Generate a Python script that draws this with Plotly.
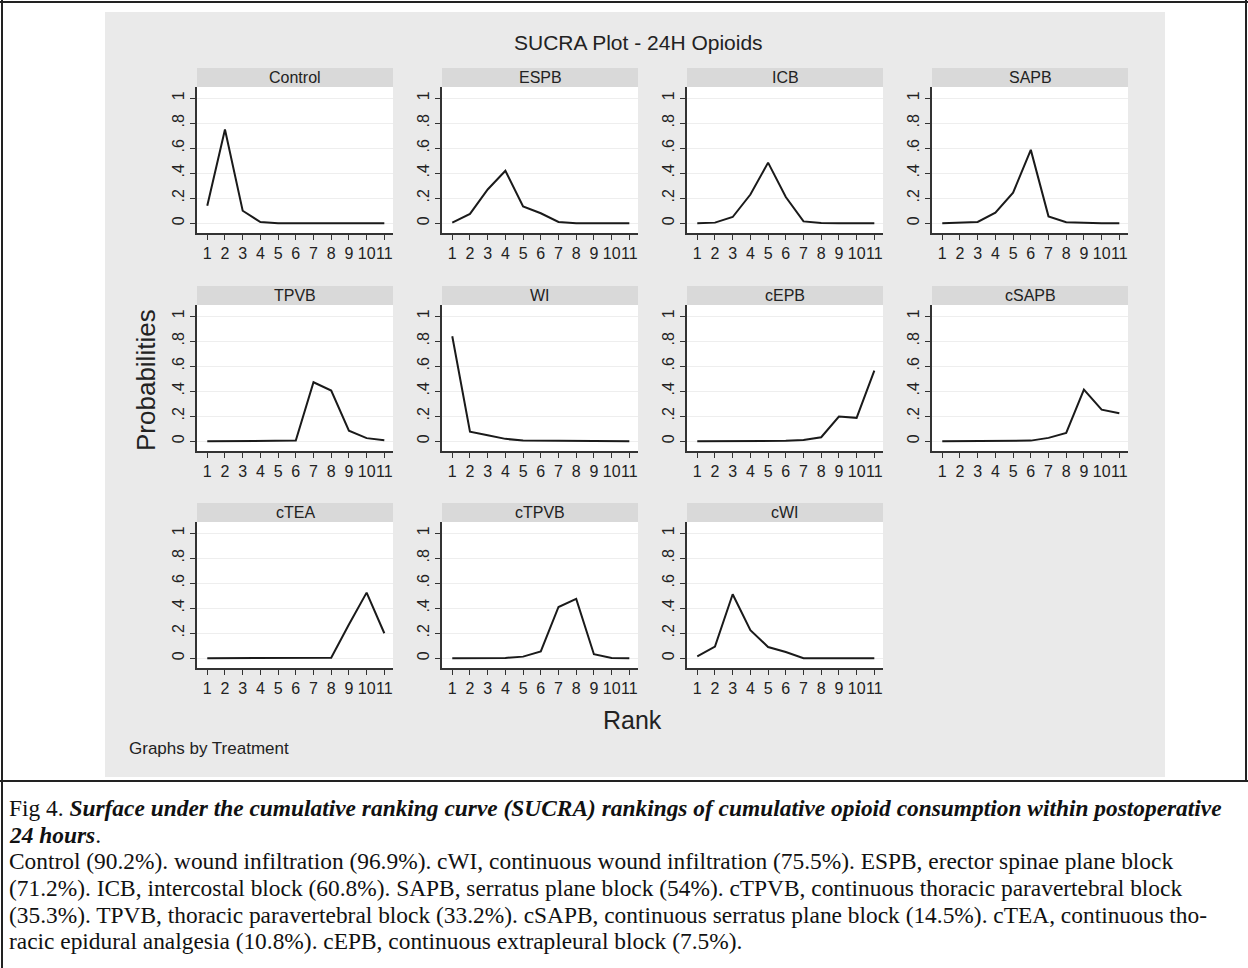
import plotly.graph_objects as go

W, H = 1248, 968

# ---------------- data ----------------
ranks = [1, 2, 3, 4, 5, 6, 7, 8, 9, 10, 11]
treatments = ["Control", "ESPB", "ICB", "SAPB", "TPVB", "WI",
              "cEPB", "cSAPB", "cTEA", "cTPVB", "cWI"]

p_control = [0.14, 0.75, 0.10, 0.01, 0.0, 0.0, 0.0, 0.0, 0.0, 0.0, 0.0]
p_espb = [0.005, 0.075, 0.27, 0.42, 0.135, 0.08, 0.01, 0.0, 0.0, 0.0, 0.0]
p_icb = [0.0, 0.005, 0.05, 0.23, 0.485, 0.21, 0.015, 0.003, 0.0, 0.0, 0.0]
p_sapb = [0.0, 0.002, 0.01, 0.085, 0.245, 0.587, 0.055, 0.008, 0.002, 0.0, 0.0]
p_tpvb = [0.0, 0.0, 0.0, 0.0, 0.0, 0.005, 0.472, 0.405, 0.085, 0.025, 0.008]
p_wi = [0.84, 0.077, 0.048, 0.019, 0.005, 0.005, 0.002, 0.002, 0.001, 0.001, 0.0]
p_cepb = [0.0, 0.0, 0.0, 0.0, 0.001, 0.003, 0.01, 0.032, 0.197, 0.187, 0.565]
p_csapb = [0.0, 0.0, 0.0, 0.0, 0.002, 0.005, 0.027, 0.067, 0.413, 0.253, 0.224]
p_ctea = [0.0, 0.0, 0.0, 0.0, 0.0, 0.0, 0.0, 0.005, 0.27, 0.525, 0.2]
p_ctpvb = [0.0, 0.0, 0.0, 0.003, 0.013, 0.055, 0.41, 0.475, 0.032, 0.003, 0.0]
p_cwi = [0.015, 0.093, 0.512, 0.225, 0.09, 0.05, 0.0, 0.0, 0.0, 0.0, 0.0]

series = [p_control, p_espb, p_icb, p_sapb, p_tpvb, p_wi,
          p_cepb, p_csapb, p_ctea, p_ctpvb, p_cwi]

ytick_vals = [0, 0.2, 0.4, 0.6, 0.8, 1]
ytick_text = ["0", ".2", ".4", ".6", ".8", "1"]

caption_lines = [
    "Fig 4. <b><i>Surface under the cumulative ranking curve (SUCRA) rankings of cumulative opioid consumption within postoperative</i></b>",
    "<b><i>24 hours</i></b>.",
    "Control (90.2%). wound infiltration (96.9%). cWI, continuous wound infiltration (75.5%). ESPB, erector spinae plane block",
    "(71.2%). ICB, intercostal block (60.8%). SAPB, serratus plane block (54%). cTPVB, continuous thoracic paravertebral block",
    "(35.3%). TPVB, thoracic paravertebral block (33.2%). cSAPB, continuous serratus plane block (14.5%). cTEA, continuous tho-",
    "racic epidural analgesia (10.8%). cEPB, continuous extrapleural block (7.5%).",
]

# ---------------- layout geometry (pixels) ----------------
col_left = [197, 442, 687, 932]
row_top = [87, 305, 522]
pw, ph = 196, 146
strip_h = 19

def fx(px):
    return px / W

def fy(py):
    return 1 - py / H

SANS = "Liberation Sans, Arial, sans-serif"
SERIF = "Liberation Serif, Times New Roman, serif"
INK = "#222222"

fig = go.Figure()
shapes = []
annotations = []

# gray graph region
shapes.append(dict(type="rect", xref="paper", yref="paper",
                   x0=fx(105), x1=fx(1165), y0=fy(777), y1=fy(12),
                   fillcolor="#EAEAEA", line=dict(width=0), layer="below"))

for i, (name, vals) in enumerate(zip(treatments, series)):
    r, c = divmod(i, 4)
    x0 = col_left[c]
    x1 = x0 + pw
    yt = row_top[r]
    yb = yt + ph
    k = "" if i == 0 else str(i + 1)
    shapes.append(dict(type="rect", xref="paper", yref="paper",
                       x0=fx(x0), x1=fx(x1), y0=fy(yb), y1=fy(yt),
                       fillcolor="white", line=dict(width=0), layer="below"))
    shapes.append(dict(type="rect", xref="paper", yref="paper",
                       x0=fx(x0), x1=fx(x1), y0=fy(yt), y1=fy(yt - strip_h),
                       fillcolor="#D9D9D9", line=dict(width=0), layer="below"))
    annotations.append(dict(text=name, xref="paper", yref="paper",
                            x=fx((x0 + x1) / 2), y=fy(yt - strip_h / 2),
                            xanchor="center", yanchor="middle", showarrow=False,
                            font=dict(family=SANS, size=16, color=INK)))
    fig.add_trace(go.Scatter(x=ranks, y=vals, mode="lines",
                             line=dict(color="#1a1a1a", width=2),
                             xaxis="x" + k, yaxis="y" + k,
                             showlegend=False, hoverinfo="skip"))
    fig.layout["xaxis" + k] = dict(
        domain=[fx(x0), fx(x1)], anchor="y" + k, range=[0.42, 11.49],
        tickmode="array", tickvals=ranks, ticktext=[str(v) for v in ranks],
        tickangle=0, showgrid=False, zeroline=False, showline=True,
        linecolor="#333333", linewidth=1.5, ticks="outside", ticklen=5,
        tickwidth=1.2, tickcolor="#333333",
        tickfont=dict(family=SANS, size=16, color=INK), fixedrange=True)
    fig.layout["yaxis" + k] = dict(
        domain=[fy(yb), fy(yt)], anchor="x" + k, range=[-0.078, 1.09],
        tickmode="array", tickvals=ytick_vals, ticktext=ytick_text,
        tickangle=-90, showgrid=True, gridcolor="#EEEEEE", gridwidth=1,
        zeroline=False, showline=True, linecolor="#333333", linewidth=1.5,
        ticks="outside", ticklen=5, tickwidth=1.2, tickcolor="#333333",
        tickfont=dict(family=SANS, size=16, color=INK), fixedrange=True)

# titles
annotations.append(dict(text="SUCRA Plot - 24H Opioids", xref="paper", yref="paper",
                        x=fx(638), y=fy(42), xanchor="center", yanchor="middle",
                        showarrow=False, font=dict(family=SANS, size=21, color=INK)))
annotations.append(dict(text="Probabilities", xref="paper", yref="paper",
                        x=fx(146), y=fy(380), xanchor="center", yanchor="middle",
                        textangle=-90, showarrow=False,
                        font=dict(family=SANS, size=26, color=INK)))
annotations.append(dict(text="Rank", xref="paper", yref="paper",
                        x=fx(632), y=fy(720), xanchor="center", yanchor="middle",
                        showarrow=False, font=dict(family=SANS, size=25, color=INK)))
annotations.append(dict(text="Graphs by Treatment", xref="paper", yref="paper",
                        x=fx(127), y=fy(748), xanchor="left", yanchor="middle",
                        showarrow=False, font=dict(family=SANS, size=17, color=INK)))

# caption
cap_y = [808, 835, 861, 888, 915, 941]
for txt, yy in zip(caption_lines, cap_y):
    annotations.append(dict(text=txt, xref="paper", yref="paper",
                            x=fx(7), y=fy(yy), xanchor="left", yanchor="middle",
                            showarrow=False,
                            font=dict(family=SERIF, size=23.4, color="#111111")))

# frame lines
line_style = dict(color="#222222", width=2)
shapes += [
    dict(type="line", xref="paper", yref="paper", x0=fx(2), x1=fx(2), y0=0, y1=1, line=line_style),
    dict(type="line", xref="paper", yref="paper", x0=0, x1=1, y0=fy(2), y1=fy(2), line=line_style),
    dict(type="line", xref="paper", yref="paper", x0=fx(1246), x1=fx(1246), y0=fy(781), y1=1, line=line_style),
    dict(type="line", xref="paper", yref="paper", x0=0, x1=1, y0=fy(781), y1=fy(781), line=line_style),
]

fig.update_layout(
    width=W, height=H, margin=dict(l=0, r=0, t=0, b=0),
    paper_bgcolor="white", plot_bgcolor="rgba(0,0,0,0)",
    shapes=shapes, annotations=annotations, showlegend=False,
)

fig.write_html("out.html")
